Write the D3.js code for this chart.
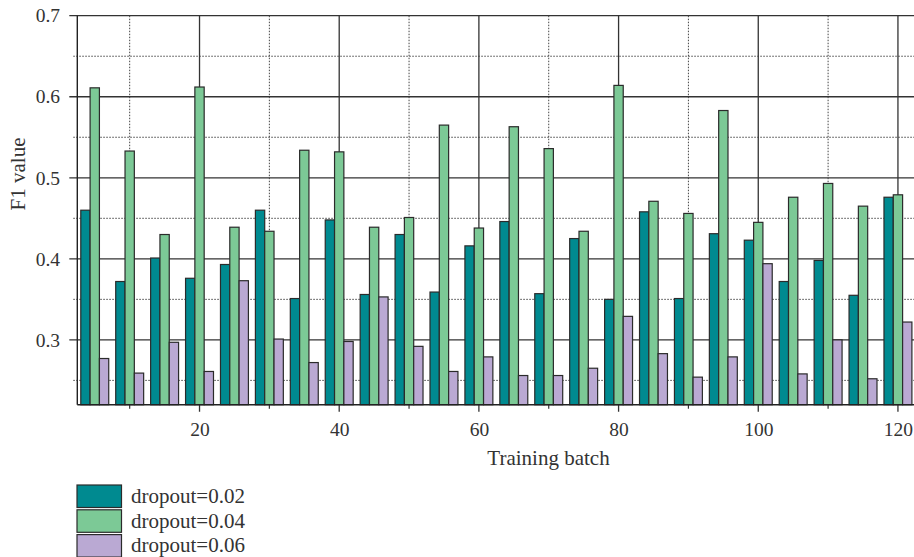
<!DOCTYPE html>
<html>
<head>
<meta charset="utf-8">
<script src="https://cdn.jsdelivr.net/npm/d3@7"></script>
<style>
  html, body { margin: 0; padding: 0; background: #fff; }
  svg { display: block; }
  text { font-family: "Liberation Serif", "Times New Roman", serif; fill: #333; }
</style>
</head>
<body>
<svg id="chart" width="914" height="557"></svg>
<script>
// ---- data ----
const batches = [5,10,15,20,25,30,35,40,45,50,55,60,65,70,75,80,85,90,95,100,105,110,115,120];
const seriesNames = ["dropout=0.02", "dropout=0.04", "dropout=0.06"];
const dropout002 = [0.460,0.372,0.401,0.376,0.393,0.460,0.351,0.448,0.356,0.430,0.359,0.416,0.446,0.357,0.425,0.350,0.458,0.351,0.431,0.423,0.372,0.398,0.355,0.476];
const dropout004 = [0.611,0.533,0.430,0.612,0.439,0.434,0.534,0.532,0.439,0.451,0.565,0.438,0.563,0.536,0.434,0.614,0.471,0.456,0.583,0.445,0.476,0.493,0.465,0.479];
const dropout006 = [0.277,0.259,0.297,0.261,0.373,0.301,0.272,0.298,0.353,0.292,0.261,0.279,0.256,0.256,0.265,0.329,0.283,0.254,0.279,0.394,0.258,0.300,0.252,0.322];
const yMajorTicks = [0.3,0.4,0.5,0.6,0.7];
const yMinorTicks = [0.25,0.35,0.45,0.55,0.65];
const xMajorTicks = [20,40,60,80,100,120];
const xMinorTicks = [10,30,50,70,90,110];
const colors = ["#008a90", "#7cc996", "#baa9d3"];

const series = [dropout002, dropout004, dropout006];

// ---- layout ----
const svg = d3.select("#chart");
const pLeft = 77.3, pRight = 915.4, pTop = 15.7, pBottom = 404.7;
const x = d3.scaleLinear().domain([2.5, 122.5]).range([pLeft, pRight]);
const y = d3.scaleLinear().domain([0.22, 0.7]).range([pBottom, pTop]);

const grid = svg.append("g");
grid.selectAll(".hmaj").data(yMajorTicks).join("line")
  .attr("x1", pLeft - 8).attr("x2", 914)
  .attr("y1", d => y(d)).attr("y2", d => y(d))
  .attr("stroke", "#333").attr("stroke-width", 1.3);
grid.selectAll(".hmin").data(yMinorTicks).join("line")
  .attr("x1", pLeft - 4).attr("x2", 914)
  .attr("y1", d => y(d)).attr("y2", d => y(d))
  .attr("stroke", "#444").attr("stroke-width", 1).attr("stroke-dasharray", "1.5,1.5");
grid.selectAll(".vmaj").data(xMajorTicks).join("line")
  .attr("x1", d => x(d)).attr("x2", d => x(d))
  .attr("y1", pTop).attr("y2", pBottom + 7)
  .attr("stroke", "#333").attr("stroke-width", 1.3);
grid.selectAll(".vmin").data(xMinorTicks).join("line")
  .attr("x1", d => x(d)).attr("x2", d => x(d))
  .attr("y1", pTop).attr("y2", pBottom)
  .attr("stroke", "#444").attr("stroke-width", 1).attr("stroke-dasharray", "1.5,1.5");
grid.selectAll(".vminTick").data(xMinorTicks).join("line")
  .attr("x1", d => x(d)).attr("x2", d => x(d))
  .attr("y1", pBottom).attr("y2", pBottom + 4)
  .attr("stroke", "#333").attr("stroke-width", 1.2);

// bars
const groupW = 4, barW = groupW / 3;
const barsG = svg.append("g");
series.forEach((vals, si) => {
  barsG.append("g").selectAll("rect").data(vals.map((v, i) => ({b: batches[i], v})))
    .join("rect")
    .attr("x", d => x(d.b - groupW / 2 + si * barW))
    .attr("width", x(barW) - x(0))
    .attr("y", d => y(d.v))
    .attr("height", d => pBottom - y(d.v))
    .attr("fill", colors[si])
    .attr("stroke", "#2b2b2b")
    .attr("stroke-width", 1.2);
});

// axis lines
svg.append("line").attr("x1", pLeft).attr("x2", pLeft).attr("y1", pTop).attr("y2", pBottom)
  .attr("stroke", "#222").attr("stroke-width", 1.4);
svg.append("line").attr("x1", pLeft).attr("x2", 914).attr("y1", pBottom).attr("y2", pBottom)
  .attr("stroke", "#222").attr("stroke-width", 1.4);

// tick labels via axes
const yAxis = svg.append("g").attr("transform", `translate(${pLeft},0)`)
  .call(d3.axisLeft(y).tickValues(yMajorTicks).tickSize(0).tickPadding(17.3).tickFormat(d3.format(".1f")));
yAxis.select(".domain").remove();
yAxis.selectAll("text").attr("font-size", "19.5px").attr("font-family", "Liberation Serif, serif").attr("fill", "#333");

const xAxis = svg.append("g").attr("transform", `translate(0,${pBottom})`)
  .call(d3.axisBottom(x).tickValues(xMajorTicks).tickSize(0).tickPadding(17.5).tickFormat(d3.format("d")));
xAxis.select(".domain").remove();
xAxis.selectAll("text").attr("font-size", "19.5px").attr("font-family", "Liberation Serif, serif").attr("fill", "#333");

// axis titles
svg.append("text").attr("x", 548.5).attr("y", 465).attr("text-anchor", "middle")
  .attr("font-size", "21px").text("Training batch");
svg.append("text").attr("transform", "translate(25,174) rotate(-90)").attr("text-anchor", "middle")
  .attr("font-size", "21px").text("F1 value");

// legend
const legend = svg.append("g");
seriesNames.forEach((name, i) => {
  const g = legend.append("g").attr("transform", `translate(77,${485 + i * 24.8})`);
  g.append("rect").attr("width", 44.5).attr("height", 22.5)
    .attr("fill", colors[i]).attr("stroke", "#2b2b2b").attr("stroke-width", 1.2);
  g.append("text").attr("x", 54).attr("y", 17.7).attr("font-size", "21px").text(name);
});
</script>
</body>
</html>
